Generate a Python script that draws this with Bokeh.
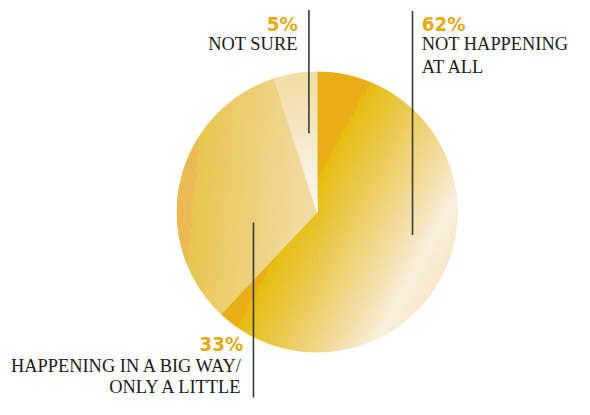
import numpy as np
from bokeh.plotting import figure
from bokeh.models import Range1d, ColumnDataSource
from bokeh.core.properties import value
from bokeh.embed import file_html
from bokeh.resources import INLINE

# ---------------- data ----------------
categories = ["NOT HAPPENING AT ALL", "HAPPENING IN A BIG WAY/ONLY A LITTLE", "NOT SURE"]
shares = [62, 33, 5]
pct_labels = ["62%", "33%", "5%"]
name_lines = [["NOT HAPPENING", "AT ALL"], ["HAPPENING IN A BIG WAY/", "ONLY A LITTLE"], ["NOT SURE"]]

# ---------------- layout / style ----------------
W, H = 574, 399
REF_W, REF_H = 590, 415
SC = 0.5 * (W / REF_W + H / REF_H)
TXT_DY = 7.3          # the svg text sits a little low: lift every label


def Y(y):
    return REF_H - y


cx, cy_img, R = 325.5, 220.0, 144.0
cy = Y(cy_img)

p = figure(width=W, height=H, output_backend="svg", toolbar_location=None,
           x_range=Range1d(0, REF_W), y_range=Range1d(0, REF_H), min_border=0)
p.axis.visible = False
p.grid.visible = False
p.outline_line_color = None
p.background_fill_color = "white"
p.border_fill_color = "white"


def h2r(h):
    return np.array([int(h[i:i + 2], 16) for i in (1, 3, 5)], float)


def r2h(c):
    c = np.clip(np.round(c), 0, 255).astype(int)
    return "#%02x%02x%02x" % tuple(c)


def ramp(t, stops):
    ts = [s[0] for s in stops]
    cols = np.array([h2r(s[1]) for s in stops])
    return r2h([np.interp(t, ts, cols[:, k]) for k in range(3)])


# gradient styles for each slice: direction (image coords), hard edge, stops
styles = [
    dict(d=(0.88, 0.48), edge=-16, edge_col="#e8ab13",
         stops=[(-16, "#e6bb0a"), (20, "#e9c640"), (60, "#efd37c"), (90, "#f3e0ac"),
                (117, "#f8eedb"), (140, "#f7e8cb"), (220, "#f6e4c3")]),
    dict(d=(0.996, 0.088), edge=-128, edge_col="#ebb94f",
         stops=[(-128, "#e8c64c"), (-100, "#eaca62"), (-60, "#edd07d"), (-20, "#f0d99a"), (0, "#f1dca3")]),
    dict(d=(0.0, 1.0), edge=-1e9, edge_col="#f1dca2",
         stops=[(-144, "#f1dca2"), (-100, "#f3e3b8"), (-50, "#f8eed9"), (0, "#fefbf4")]),
]

cum = np.concatenate([[0], np.cumsum(shares)]) / sum(shares) * 360.0
xs, ys, r_in, r_out, a0, a1, cols = [], [], [], [], [], [], []
dr = 3.5
rings = np.arange(0, R + 1e-6, dr)
if rings[-1] < R:
    rings = np.append(rings, R)
for i, st in enumerate(styles):
    th0, th1 = cum[i], cum[i + 1]
    n = max(2, int(np.ceil((th1 - th0) / 1.6)))
    th = np.linspace(th0, th1, n + 1)
    for k in range(n):
        tm = np.radians((th[k] + th[k + 1]) / 2)
        for j in range(len(rings) - 1):
            rm = (rings[j] + rings[j + 1]) / 2
            dx = rm * np.sin(tm)
            dy = -rm * np.cos(tm)
            t = dx * st["d"][0] + dy * st["d"][1]
            c = st["edge_col"] if t < st["edge"] else ramp(t, st["stops"])
            xs.append(cx)
            ys.append(cy)
            r_in.append(rings[j])
            r_out.append(rings[j + 1])
            # bokeh angles: anticlockwise from +x
            a0.append(np.pi / 2 - np.radians(th[k + 1]))
            a1.append(np.pi / 2 - np.radians(th[k]))
            cols.append(c)

src = ColumnDataSource(dict(x=xs, y=ys, ri=r_in, ro=r_out, a0=a0, a1=a1, c=cols))
p.annular_wedge(x="x", y="y", inner_radius="ri", outer_radius="ro",
                start_angle="a0", end_angle="a1", fill_color="c", line_color="c",
                line_width=0.6, source=src)

# leader lines (reference image coordinates)
lead_x = [423.5, 260.0, 317.0]
lead_top = [11, 231, 10]
lead_bot = [244, 413, 138]
p.segment(x0=lead_x, y0=[Y(v) for v in lead_top], x1=lead_x, y1=[Y(v) for v in lead_bot],
          line_color="#3a3a3a", line_width=1.6)

# labels
pct_x = [433.0, 249.5, 305.5]
pct_y = [31.5, 365.0, 31.5]
align = ["left", "right", "right"]
name_y0 = [53.0, 387.5, 53.0]
line_gap = [23.5, 22.0, 23.5]
pct_size = "%.1fpx" % (21 * SC)
name_size = "%.1fpx" % (19 * SC)

for i in range(3):
    p.text(x=[pct_x[i]], y=[Y(pct_y[i] - TXT_DY)], text=[pct_labels[i]],
           text_font=value("DejaVu Sans Condensed"), text_font_style="bold",
           text_font_size=pct_size, text_color="#e7a914", text_align=align[i],
           text_baseline="alphabetic")
    lx = [pct_x[i]] * len(name_lines[i])
    ly = [Y(name_y0[i] + line_gap[i] * k - TXT_DY) for k in range(len(name_lines[i]))]
    p.text(x=lx, y=ly, text=name_lines[i], text_font=value("Liberation Serif"),
           text_font_size=name_size, text_color="#1b1b1b", text_align=align[i],
           text_baseline="alphabetic")

open("out.html", "w").write(file_html(p, INLINE))
